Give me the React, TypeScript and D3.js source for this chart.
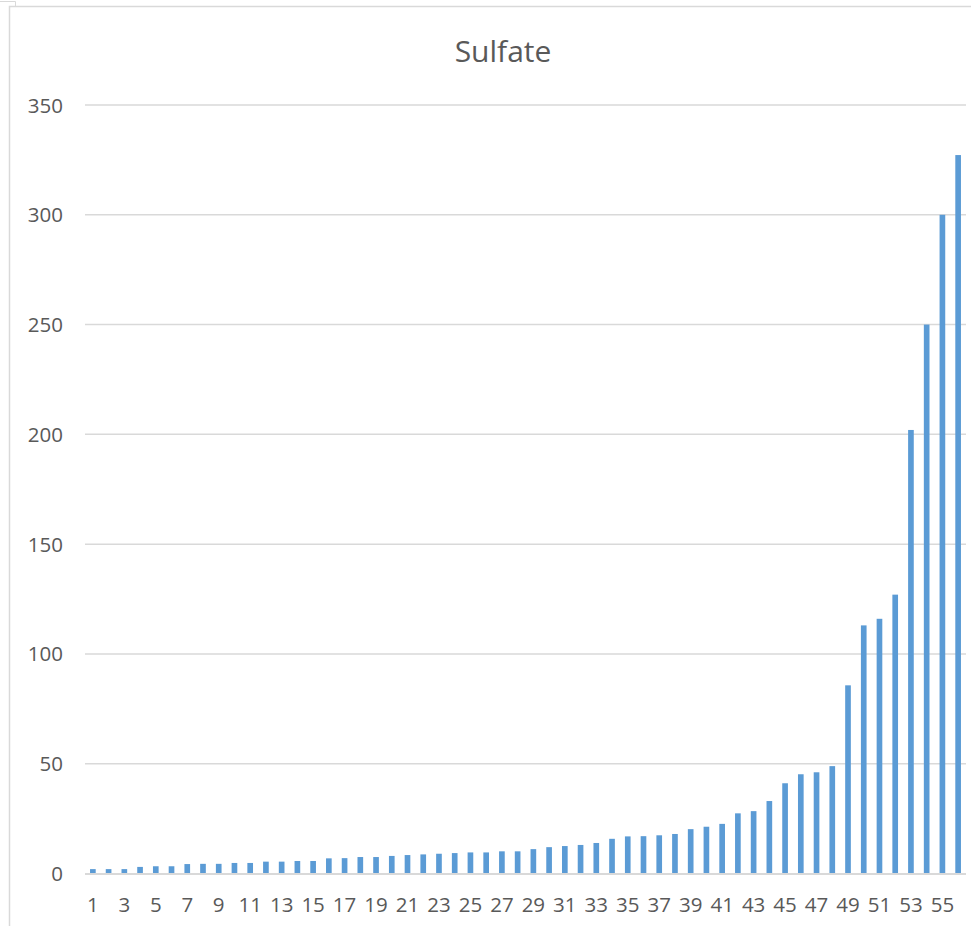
import React, { useEffect, useRef } from "react";
import * as d3 from "d3";

const categories: string[] = Array.from({ length: 56 }, (_, i) => String(i + 1));
const sulfateValues: number[] = [
  2.0, 2.0, 2.0, 3.0, 3.3, 3.3, 4.3, 4.4, 4.4, 4.8,
  4.8, 5.4, 5.4, 5.7, 5.7, 6.9, 7.0, 7.5, 7.5, 8.0,
  8.4, 8.7, 9.0, 9.3, 9.6, 9.6, 10.1, 10.1, 11.1, 12.0,
  12.5, 13.0, 13.9, 15.8, 16.9, 17.0, 17.4, 18.0, 20.2, 21.3,
  22.6, 27.4, 28.4, 33.0, 41.1, 45.2, 46.1, 48.9, 85.7, 113.0,
  116.0, 127.0, 202.0, 250.0, 300.0, 327.2,
];
const yTicks: number[] = [0, 50, 100, 150, 200, 250, 300, 350];
const xTickLabels: string[] = categories.filter((_, i) => i % 2 === 0);
const chartTitle = "Sulfate";

export default function App() {
  const ref = useRef<SVGSVGElement | null>(null);

  useEffect(() => {
    const svg = d3.select(ref.current);
    svg.selectAll("*").remove();
    const W = 971, H = 926;
    const left = 85, right = 966, top = 105, bottom = 873.5;
    const font = "'Open Sans', 'Liberation Sans', sans-serif";
    const textColor = "#595959";
    const gridColor = "#d9d9d9";

    // chart border (cropped)
    svg.append("path")
      .attr("d", `M9.5,${H} L9.5,6.5 L${W},6.5`)
      .attr("fill", "none").attr("stroke", gridColor).attr("stroke-width", 1.5);
    svg.append("path")
      .attr("d", `M0,1.5 L15.5,1.5 L15.5,6`)
      .attr("fill", "none").attr("stroke", gridColor).attr("stroke-width", 1);

    const x = d3.scaleBand<string>().domain(categories).range([left, right]).paddingInner(0.64).paddingOuter(0.32);
    const y = d3.scaleLinear().domain([0, 350]).range([bottom, top]);

    // gridlines
    svg.append("g").selectAll("line").data(yTicks.filter(t => t > 0)).join("line")
      .attr("x1", left).attr("x2", right)
      .attr("y1", d => y(d)).attr("y2", d => y(d))
      .attr("stroke", gridColor).attr("stroke-width", 1.5);

    // y labels
    svg.append("g").selectAll("text").data(yTicks).join("text")
      .attr("x", 63).attr("y", d => y(d) + 7.5)
      .attr("text-anchor", "end")
      .attr("font-family", font).attr("font-size", 20.5).attr("fill", textColor)
      .text(d => String(d));

    // bars
    svg.append("g").selectAll("rect").data(sulfateValues).join("rect")
      .attr("x", (_, i) => x(categories[i]) as number)
      .attr("width", x.bandwidth())
      .attr("y", d => y(d))
      .attr("height", d => y(0) - y(d))
      .attr("fill", "#5B9BD5");

    // x axis line
    svg.append("line")
      .attr("x1", left).attr("x2", right)
      .attr("y1", y(0) + 0.5).attr("y2", y(0) + 0.5)
      .attr("stroke", gridColor).attr("stroke-width", 2);

    // x labels
    svg.append("g").selectAll("text").data(xTickLabels).join("text")
      .attr("x", d => (x(d) as number) + x.bandwidth() / 2)
      .attr("y", 912)
      .attr("text-anchor", "middle")
      .attr("font-family", font).attr("font-size", 20.5).attr("fill", textColor)
      .text(d => d);

    // title
    svg.append("text")
      .attr("x", 503).attr("y", 61.5)
      .attr("text-anchor", "middle")
      .attr("font-family", font).attr("font-size", 30).attr("fill", textColor)
      .text(chartTitle);
  }, []);

  return (
    <svg
      ref={ref}
      width={971}
      height={926}
      style={{ position: "absolute", left: 0, top: 0, background: "#fff" }}
    />
  );
}
